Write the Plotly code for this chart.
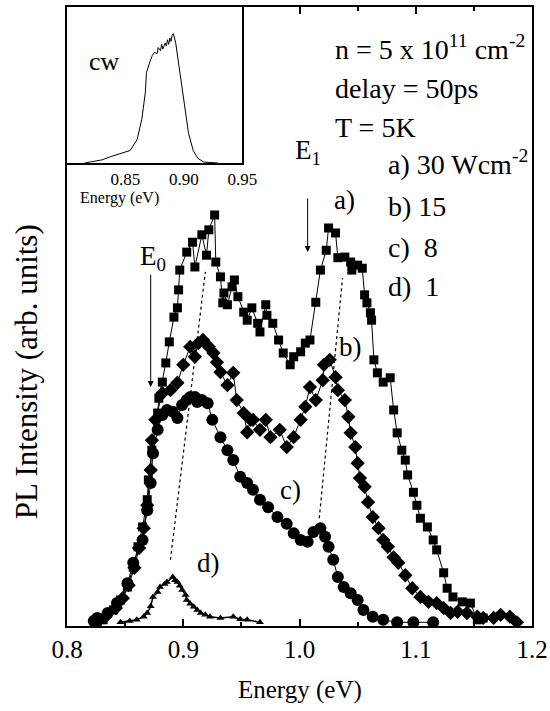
import plotly.graph_objects as go

# ---------------- data ----------------
# a) 30 W/cm^2 (squares)
a_E = [0.826,0.831,0.840,0.846,0.852,0.857,0.861,0.865,0.869,0.870,0.873,0.878,0.879,0.882,0.885,0.888,
       0.892,0.895,0.896,0.897,0.903,0.908,0.910,0.916,0.920,0.922,0.927,0.928,0.932,0.934,0.935,0.938,
       0.942,0.944,0.947,0.952,0.955,0.959,0.964,0.966,0.971,0.972,0.977,0.982,0.986,0.992,0.995,1.001,
       1.005,1.009,1.014,1.018,1.023,1.025,1.031,1.033,1.039,1.044,1.045,1.050,1.054,1.056,1.058,1.061,
       1.062,1.064,1.067,1.072,1.078,1.081,1.084,1.088,1.091,1.093,1.098,1.101,1.104,1.110,1.115,1.118,
       1.124,1.127,1.132,1.140,1.147,1.153,1.158]
a_I = [0.6,1.0,2.6,4.2,6.3,9.5,12.8,16.0,20.4,23.6,28.4,34.4,36.8,39.4,42.5,45.9,
       49.9,51.4,54.3,57.5,60.4,62.0,58.0,63.2,59.9,64.0,66.4,58.8,56.4,52.2,53.8,51.9,
       54.8,55.9,53.2,50.7,49.4,51.4,48.9,47.5,51.9,50.2,48.9,46.2,44.1,42.2,43.5,44.3,
       45.7,46.2,52.3,57.5,60.7,64.3,63.5,59.5,59.6,58.8,57.5,58.3,57.8,53.5,52.2,50.6,
       49.4,43.0,40.9,39.4,40.1,34.9,31.2,28.4,26.8,24.4,21.6,19.5,17.4,16.0,13.9,12.3,
       8.6,6.1,4.7,3.9,3.7,1.0,1.3]

# b) 15 W/cm^2 (diamonds)
b_E = [0.826,0.833,0.842,0.848,0.853,0.858,0.862,0.866,0.869,0.872,0.873,0.876,0.882,0.889,0.895,0.900,
       0.906,0.910,0.913,0.917,0.922,0.926,0.929,0.932,0.938,0.943,0.946,0.952,0.955,0.958,0.960,0.966,
       0.971,0.975,0.983,0.989,0.995,1.001,1.005,1.009,1.014,1.020,1.021,1.026,1.031,1.033,1.039,1.042,
       1.044,1.048,1.050,1.052,1.056,1.059,1.063,1.068,1.072,1.076,1.081,1.085,1.091,1.097,1.104,1.111,
       1.118,1.124,1.130,1.136,1.144,1.153,1.158,1.167,1.173,1.181,1.187]
b_I = [0.6,1.5,2.9,4.5,6.6,9.4,12.6,15.8,19.5,25.2,30.0,33.3,37.6,38.1,39.3,42.2,
       45.1,43.5,45.7,46.2,45.1,44.1,42.6,41.0,38.9,40.9,36.5,34.4,31.3,33.3,33.3,31.7,
       33.3,30.5,31.7,28.9,30.5,33.3,35.4,38.6,36.5,39.7,42.2,43.0,40.2,38.1,36.5,33.8,
       31.2,28.9,26.3,23.9,22.5,20.0,17.6,15.8,13.9,12.8,11.1,10.2,8.2,6.1,4.7,3.9,
       3.7,2.9,2.1,2.3,2.1,1.5,1.3,1.3,1.8,1.5,0.6]

# c) 8 W/cm^2 (circles)
c_E = [0.823,0.826,0.835,0.843,0.852,0.857,0.865,0.869,0.872,0.874,0.878,0.882,0.886,0.891,0.895,0.899,
       0.903,0.906,0.910,0.912,0.916,0.921,0.925,0.932,0.938,0.943,0.949,0.955,0.960,0.966,0.973,0.981,
       0.989,0.995,1.001,1.007,1.012,1.018,1.022,1.025,1.029,1.033,1.038,1.044,1.050,1.055,1.063,1.072,
       1.084,1.098,1.115]
c_I = [0.8,1.3,2.1,3.7,6.9,10.2,13.9,18.7,23.1,27.9,31.7,34.1,34.9,34.6,33.6,35.7,
       36.5,37.0,37.0,36.2,36.5,36.0,33.3,30.5,28.4,26.8,24.1,23.1,22.0,20.4,19.2,17.6,
       16.5,15.0,13.9,13.6,15.2,15.8,14.4,12.8,10.7,7.9,6.3,5.3,4.2,2.6,1.5,1.0,
       0.6,0.6,0.6]

# d) 1 W/cm^2 (triangles)
d_E = [0.846,0.854,0.860,0.866,0.869,0.872,0.874,0.878,0.880,0.884,0.886,0.891,0.893,0.895,0.897,0.899,
       0.902,0.903,0.906,0.909,0.912,0.915,0.919,0.923,0.932,0.943,0.949,0.955,0.966]
d_I = [0.6,0.8,1.0,1.5,2.1,3.2,4.7,5.5,6.3,6.8,7.1,7.9,7.4,7.1,6.5,5.8,
       5.0,4.2,3.6,3.1,2.6,2.1,1.8,1.5,1.3,1.5,1.1,1.0,0.6]

# guide lines (dotted) through the E0 and E1 peaks
e0_guide_E = [0.889, 0.919]
e0_guide_I = [10.7, 57.2]
e1_guide_E = [1.017, 1.037]
e1_guide_I = [17.4, 56.2]

# inset: cw spectrum
cw_E = [0.815,0.830,0.837,0.846,0.854,0.860,0.864,0.867,0.868,0.871,0.873,0.875,0.877,0.878,0.880,
        0.881,0.882,0.884,0.885,0.886,0.887,0.888,0.889,0.890,0.891,0.893,0.896,0.899,0.902,0.904,
        0.908,0.912,0.917,0.922,0.929]
cw_I = [0.0,0.02,0.04,0.06,0.08,0.15,0.28,0.45,0.58,0.65,0.69,0.71,0.70,0.74,0.72,
        0.76,0.73,0.77,0.75,0.79,0.76,0.80,0.78,0.82,0.83,0.77,0.62,0.47,0.32,0.19,
        0.08,0.03,0.006,0.004,0.0]

x_ticks = [0.8, 0.9, 1.0, 1.1, 1.2]
x_ticklabels = ["0.8", "0.9", "1.0", "1.1", "1.2"]
inset_ticks = [0.85, 0.90, 0.95]
inset_ticklabels = ["0.85", "0.90", "0.95"]

FONT = "Liberation Serif"

fig = go.Figure()

fig.add_trace(go.Scatter(x=e0_guide_E, y=e0_guide_I, mode="lines",
                         line=dict(color="black", width=1.2, dash="dot"), hoverinfo="skip"))
fig.add_trace(go.Scatter(x=e1_guide_E, y=e1_guide_I, mode="lines",
                         line=dict(color="black", width=1.2, dash="dot"), hoverinfo="skip"))

fig.add_trace(go.Scatter(x=a_E, y=a_I, mode="lines+markers", name="a",
                         line=dict(color="black", width=1),
                         marker=dict(symbol="square", size=9, color="black")))
fig.add_trace(go.Scatter(x=b_E, y=b_I, mode="lines+markers", name="b",
                         line=dict(color="black", width=1),
                         marker=dict(symbol="diamond", size=11, color="black")))
fig.add_trace(go.Scatter(x=c_E, y=c_I, mode="lines+markers", name="c",
                         line=dict(color="black", width=1),
                         marker=dict(symbol="circle", size=12, color="black")))
fig.add_trace(go.Scatter(x=d_E, y=d_I, mode="lines+markers", name="d",
                         line=dict(color="black", width=1.5),
                         marker=dict(symbol="triangle-up", size=7, color="black")))

fig.add_trace(go.Scatter(x=cw_E, y=cw_I, mode="lines", xaxis="x2", yaxis="y2",
                         line=dict(color="black", width=1)))

anns = []
def txt(x, y, s, size=28, xanchor="left", ref=("x", "y"), angle=0):
    anns.append(dict(x=x, y=y, xref=ref[0], yref=ref[1], text=s, showarrow=False,
                     xanchor=xanchor, yanchor="middle", textangle=angle,
                     font=dict(family=FONT, size=size, color="black")))

txt(1.029, 93.5, "n = 5 x 10<sup>11</sup> cm<sup>-2</sup>")
txt(1.029, 86.9, "delay = 50ps")
txt(1.029, 80.6, "T = 5K")
txt(1.074, 74.8, "a) 30 Wcm<sup>-2</sup>")
txt(1.074, 67.7, "b) 15")
txt(1.074, 61.2, "c)  8")
txt(1.074, 54.8, "d)  1")
txt(1.039, 68.8, "a)", size=27, xanchor="center")
txt(1.044, 45.1, "b)", size=27, xanchor="center")
txt(0.992, 22.0, "c)", size=27, xanchor="center")
txt(0.922, 10.2, "d)", size=27, xanchor="center")
txt(0.874, 59.5, "E<sub>0</sub>", size=27, xanchor="center")
txt(1.007, 76.6, "E<sub>1</sub>", size=27, xanchor="center")
txt(0.817, 0.65, "cw", size=26, ref=("x2", "y2"))
# axis titles
txt(0.5, -0.103, "Energy (eV)", size=25, xanchor="center", ref=("paper", "paper"))
txt(-0.088, 0.41, "PL Intensity (arb. units)", size=31, xanchor="center",
    ref=("paper", "paper"), angle=-90)
txt(0.845, 0.691, "Energy (eV)", size=16, xanchor="center", ref=("x2", "paper"))

for (xe, y0, y1) in [(0.872, 57.0, 38.6), (1.007, 69.3, 60.4)]:
    anns.append(dict(x=xe, y=y1, ax=xe, ay=y0, xref="x", yref="y", axref="x", ayref="y",
                     text="", showarrow=True, arrowhead=2, arrowsize=1.2, arrowwidth=1,
                     arrowcolor="black"))

fig.update_layout(
    width=550, height=711,
    margin=dict(l=67, r=18, t=7, b=85),
    paper_bgcolor="white", plot_bgcolor="white",
    showlegend=False,
    font=dict(family=FONT, color="black"),
    annotations=anns,
    xaxis=dict(range=[0.8, 1.2], tickvals=x_ticks, ticktext=x_ticklabels,
               ticks="inside", ticklen=7, tickwidth=1.5, tickcolor="black",
               minor=dict(dtick=0.05, ticks="inside", ticklen=4, tickcolor="black"),
               showline=True, linecolor="black", linewidth=2, mirror="ticks",
               showgrid=False, zeroline=False, automargin=False,
               tickfont=dict(family=FONT, size=25, color="black")),
    yaxis=dict(range=[0, 100], showticklabels=False, ticks="",
               showline=True, linecolor="black", linewidth=2, mirror=True,
               showgrid=False, zeroline=False, automargin=False),
    xaxis2=dict(domain=[0, 0.377], anchor="y2", range=[0.80, 0.95],
                tickvals=inset_ticks, ticktext=inset_ticklabels,
                ticks="", showline=True, linecolor="black", linewidth=1.5, mirror=True,
                showgrid=False, zeroline=False, automargin=False,
                tickfont=dict(family=FONT, size=17, color="black")),
    yaxis2=dict(domain=[0.748, 1.0], anchor="x2", range=[0, 1.0],
                showticklabels=False, ticks="", showline=True, linecolor="black",
                linewidth=1.5, mirror=True, showgrid=False, zeroline=False, automargin=False),
)

# white background behind inset
fig.add_shape(type="rect", xref="paper", yref="paper", x0=0, x1=0.377, y0=0.748, y1=1.0,
              fillcolor="white", line=dict(width=0), layer="below")

fig.write_html("out.html", config={"displayModeBar": False},
               post_script="document.body.style.margin='0';document.body.style.padding='0';")
